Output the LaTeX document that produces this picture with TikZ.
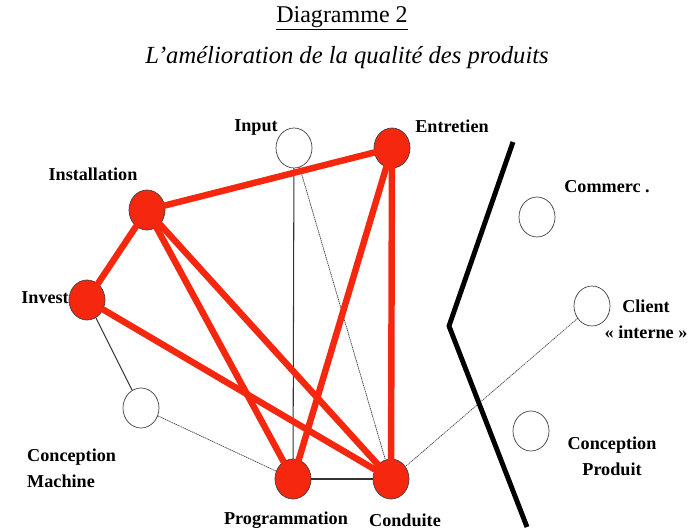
\documentclass[tikz,border=0pt]{standalone}
\usepackage{fontspec}
\setmainfont{Liberation Serif}
\usetikzlibrary{shapes.geometric}
\definecolor{rouge}{RGB}{245,40,15}

\begin{document}
\begin{tikzpicture}[line cap=round, line join=round, x=0.03cm, y=-0.03cm,
    pt/.style={ellipse, draw=black!75, line width=0.6pt, minimum width=1.08cm, minimum height=1.2cm, inner sep=0pt},
    plein/.style={pt, fill=rouge},
    lien/.style={rouge, line width=5.5pt},
    fin/.style={black!80, line width=0.9pt},
    pointille/.style={black!70, line width=0.7pt, densely dotted},
    lab/.style={font=\bfseries\fontsize{15.5}{22}\selectfont, inner sep=0pt, align=left}]
    \useasboundingbox (0,0) rectangle (694,531);
    % titres
    \node (titre) at (342,18) {\fontsize{20.5}{24}\selectfont\underline{Diagramme 2}};
    \node (soustitre) at (347,58) {\fontsize{21}{24}\selectfont\itshape L'amélioration de la qualité des produits};
    % les points
    \node[pt] (input) at (294,148) {};
    \node[plein] (entretien) at (392,148) {};
    \node[plein] (installation) at (147,210) {};
    \node[plein] (invest) at (87,300) {};
    \node[pt] (cmachine) at (141,408) {};
    \node[plein] (programmation) at (293,479) {};
    \node[plein] (conduite) at (391,479) {};
    \node[pt] (commerc) at (537,217) {};
    \node[pt] (client) at (592,306) {};
    \node[pt] (cproduit) at (531,431) {};
    % liens
    \draw[fin] (input) -- (programmation);
    \draw[fin] (invest) -- (cmachine);
    \draw[fin] (programmation) -- (conduite);
    \draw[pointille] (input) -- (conduite);
    \draw[pointille] (cmachine) -- (programmation);
    \draw[pointille] (client) -- (conduite);
    \foreach \a/\b in {installation/entretien, installation/invest, installation/programmation,
        installation/conduite, invest/conduite, entretien/programmation, entretien/conduite}
        \draw[lien] (\a) -- (\b);
    % frontiere
    \coordinate (f1) at (513,142);
    \coordinate (f2) at (449,326);
    \coordinate (f3) at (527,527);
    \draw[line width=4.2pt, line cap=butt] (f1) -- (f2) -- (f3);
    % etiquettes
    \node[lab] (linput) at (256,127) {Input};
    \node[lab] (lentretien) at (452,126) {Entretien};
    \node[lab] (linstallation) at (93,174) {Installation};
    \node[lab, anchor=east] (linvest) at (69,298) {Invest};
    \node[lab, anchor=west] (lcmachine) at (27,468) {Conception\\Machine};
    \node[lab] (lprogrammation) at (286,520) {Programmation};
    \node[lab] (lconduite) at (405,520) {Conduite};
    \node[lab] (lcommerc) at (607,187) {Commerc .};
    \node[lab, align=center] (lclient) at (646,319) {Client\\« interne »};
    \node[lab, align=center] (lcproduit) at (612,456) {Conception\\Produit};
\end{tikzpicture}
\end{document}
